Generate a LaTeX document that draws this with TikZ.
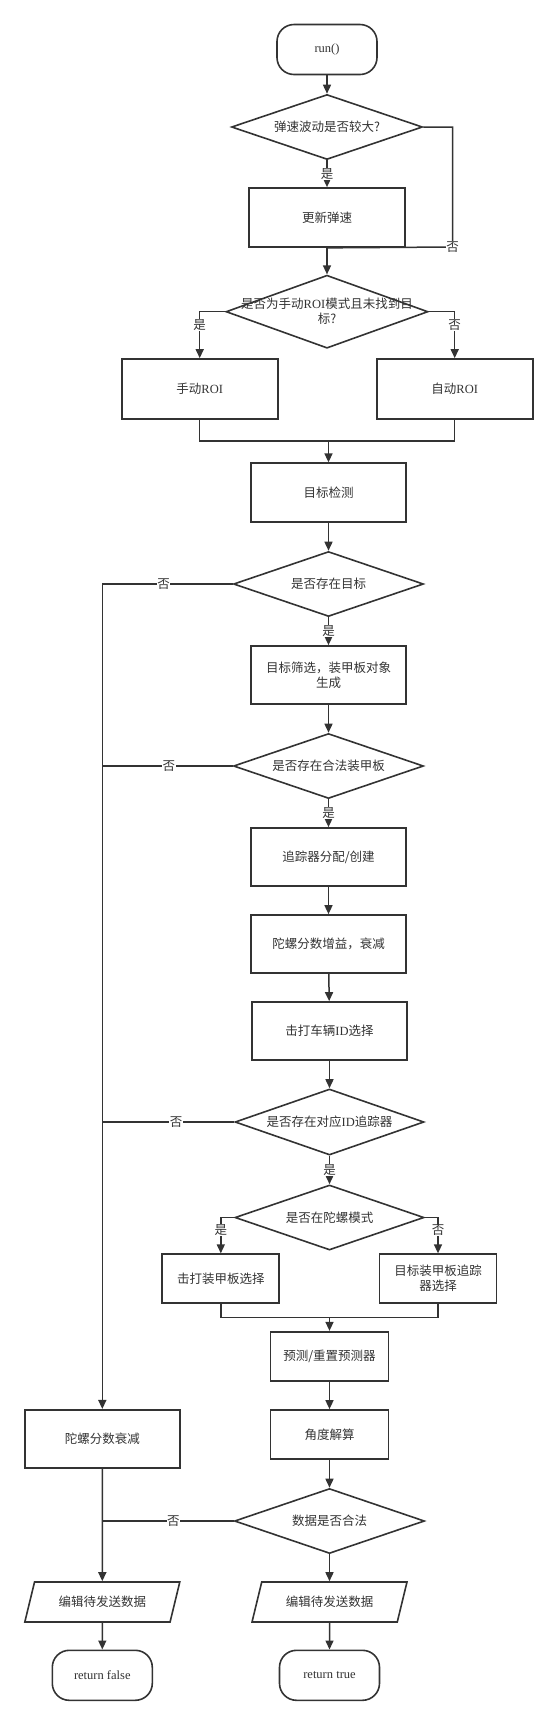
\documentclass[tikz,border=0pt]{standalone}
\usepackage{fontspec}
\setmainfont{Liberation Serif}
\newfontfamily\cjk{Noto Sans CJK SC}
\usepackage{tikz}
\usetikzlibrary{positioning,shapes.geometric,arrows.meta}
\definecolor{linegray}{HTML}{333333}
\definecolor{textgray}{HTML}{333333}

\begin{document}
\fontsize{12.5pt}{15pt}\selectfont
\begin{tikzpicture}[x=1pt,y=-1pt,
  line/.style={draw=linegray, line width=1.5pt},
  arr/.style={line, -{Triangle[length=9pt,width=8pt]}},
  proc/.style={rectangle, draw=linegray, line width=1.7pt, minimum width=155pt, minimum height=58pt, align=center, text=textgray, font=\cjk},
  term/.style={rectangle, rounded corners=17pt, draw=linegray, line width=1.6pt, minimum width=100pt, minimum height=50pt, text=textgray},
  decide/.style={diamond, draw=linegray, line width=1.6pt, minimum width=190pt, minimum height=65pt, inner sep=0pt},
  io/.style={trapezium, trapezium left angle=71, trapezium right angle=109, trapezium stretches=true, draw=linegray, line width=1.6pt, minimum width=155pt, minimum height=40pt, text=textgray, font=\cjk},
  yn/.style={fill=white, inner sep=0.5pt, text=textgray, font=\cjk},
  dtext/.style={text=textgray, font=\cjk, align=center}]
\useasboundingbox (0,0) rectangle (557,1725);

% main column
\node[term] (run) at (327,49.5) {run()};
\node[decide, minimum width=191pt, label={[dtext]center:弹速波动是否较大?}] (d1) at (327,127) {};
\node[proc, minimum width=156pt, minimum height=59pt] (upd) at (327,217.5) {更新弹速};
\node[decide, minimum width=202pt, minimum height=73pt, label={[dtext]center:{是否为手动\textrm{ROI}模式且未找到目\\标?}}] (d2) at (327,311.7) {};
\node[proc, minimum width=156pt, minimum height=60pt] (manual) at (199.7,389) {手动\textrm{ROI}};
\node[proc, minimum width=156pt, minimum height=60pt] (auto) at (454.7,389) {自动\textrm{ROI}};
\coordinate (m1) at (328.5,441);
\node[proc, minimum height=59pt] (detect) at (328.5,492.7) {目标检测};
\node[decide, label={[dtext]center:是否存在目标}] (d3) at (328.5,584) {};
\node[proc] (filter) at (328.5,675) {目标筛选，装甲板对象\\生成};
\node[decide, label={[dtext]center:是否存在合法装甲板}] (d4) at (328.5,766) {};
\node[proc] (alloc) at (328.5,857) {追踪器分配/创建};
\node[proc] (gain) at (328.5,944) {陀螺分数增益，衰减};
\node[proc] (pickid) at (329.5,1031) {击打车辆\textrm{ID}选择};
\node[decide, minimum width=189pt, minimum height=66pt, label={[dtext]center:是否存在对应\textrm{ID}追踪器}] (d5) at (329.5,1122) {};
\node[decide, minimum width=189pt, label={[dtext]center:是否在陀螺模式}] (d6) at (329.5,1217.5) {};
\node[proc, minimum width=117pt, minimum height=49pt] (hitsel) at (220.8,1278.7) {击打装甲板选择};
\node[proc, minimum width=117pt, minimum height=49pt] (trksel) at (438,1278.7) {目标装甲板追踪\\器选择};
\coordinate (m2) at (329.5,1317.3);
\node[proc, minimum width=118pt, minimum height=49pt] (pred) at (329.5,1356.2) {预测/重置预测器};
\node[proc, minimum width=118pt, minimum height=49pt] (angle) at (329.5,1434.5) {角度解算};
\node[decide, label={[dtext]center:数据是否合法}] (d7) at (329.5,1521) {};
\node[io] (rpara) at (329.5,1602) {编辑待发送数据};
\node[term] (rtrue) at (329.5,1675.3) {return true};

% left column
\coordinate (l1) at (102.3,584);
\coordinate (l2) at (102.3,766);
\coordinate (l3) at (102.3,1122);
\coordinate (l4) at (102.3,1521);
\node[proc] (decay) at (102.3,1438.8) {陀螺分数衰减};
\node[io] (lpara) at (102.3,1602) {编辑待发送数据};
\node[term] (rfalse) at (102.3,1675.3) {return false};
\coordinate (c1) at (452.7,247);

% connectors
\draw[arr] (run) -- (d1);
\draw[arr] (d1) -- node[yn]{是} (upd);
\draw[line] (d1.east) -| (c1) node[yn]{否} -- (upd.south);
\draw[arr] (upd) -- (d2);
\draw[arr] (d2.west) -| node[yn,pos=0.64]{是} (manual);
\draw[arr] (d2.east) -| node[yn,pos=0.64]{否} (auto);
\draw[line] (manual.south) |- (m1);
\draw[line] (auto.south) |- (m1);
\draw[arr] (m1) -- (detect);
\draw[arr] (detect) -- (d3);
\draw[arr] (d3) -- node[yn]{是} (filter);
\draw[arr] (filter) -- (d4);
\draw[arr] (d4) -- node[yn]{是} (alloc);
\draw[arr] (alloc) -- (gain);
\draw[arr] (gain) -- (pickid);
\draw[arr] (pickid) -- (d5);
\draw[arr] (d5) -- node[yn]{是} (d6);
\draw[arr] (d6.west) -| node[yn,pos=0.68]{是} (hitsel);
\draw[arr] (d6.east) -| node[yn,pos=0.68]{否} (trksel);
\draw[line] (hitsel.south) |- (m2);
\draw[line] (trksel.south) |- (m2);
\draw[arr] (m2) -- (pred);
\draw[arr] (pred) -- (angle);
\draw[arr] (angle) -- (d7);
\draw[arr] (d7) -- (rpara);
\draw[arr] (rpara) -- (rtrue);

\draw[arr] (d3.west) -- node[yn,pos=0.53]{否} (l1) -- (decay);
\draw[line] (d4.west) -- node[yn,pos=0.49]{否} (l2);
\draw[line] (d5.west) -- node[yn,pos=0.44]{否} (l3);
\draw[line] (d7.west) -- node[yn,pos=0.46]{否} (l4);
\draw[arr] (decay) -- (lpara);
\draw[arr] (lpara) -- (rfalse);
\end{tikzpicture}
\end{document}
